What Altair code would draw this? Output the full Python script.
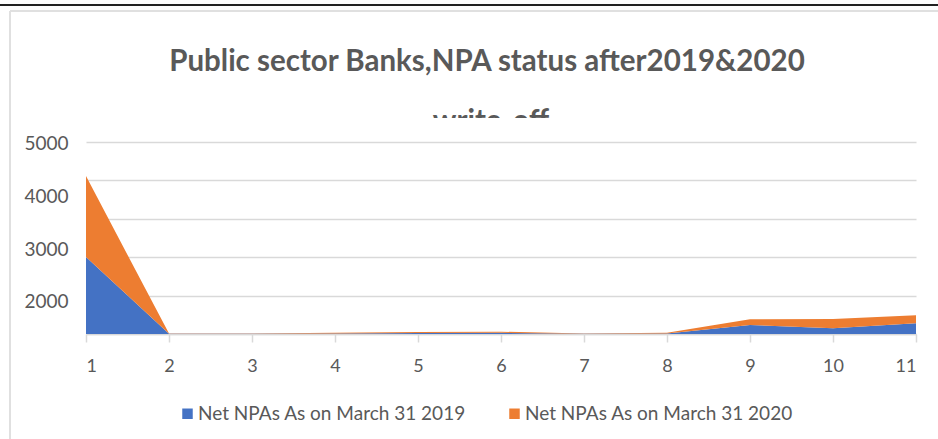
import altair as alt
import pandas as pd

# ---- data ----
banks = [1, 2, 3, 4, 5, 6, 7, 8, 9, 10, 11]
npa_2019 = [2008, 5, 5, 15, 25, 30, 5, 15, 234, 148, 278]
npa_2020 = [2104, 5, 5, 15, 30, 30, 5, 20, 148, 242, 208]
series_names = ["Net NPAs As on March 31 2019", "Net NPAs As on March 31 2020"]
series_colors = ["#4472C4", "#ED7D31"]
grid_values = [0, 1000, 2000, 3000, 4000, 5000]
y_label_values = [2000, 3000, 4000, 5000]
title_line1 = "Public sector Banks,NPA status after2019&2020"
title_line2 = "write-off"

FONT = "Lato, Carlito, sans-serif"
TXT = "#595959"
GRID = "#d9d9d9"

rows = []
for b, v in zip(banks, npa_2019):
    rows.append({"bank": b, "value": v, "series": series_names[0]})
for b, v in zip(banks, npa_2020):
    rows.append({"bank": b, "value": v, "series": series_names[1]})
df = pd.DataFrame(rows)

W, H = 830, 192

area = alt.Chart(df).mark_area(opacity=1).encode(
    x=alt.X("bank:Q", scale=alt.Scale(domain=[1, 11], nice=False, zero=False),
            axis=alt.Axis(values=banks, format="d", title=None, grid=False,
                          domainColor=GRID, domainWidth=1.5, tickColor=GRID,
                          tickSize=8, tickWidth=1.5, labelColor=TXT,
                          labelFontSize=18, labelPadding=15, labelFont=FONT)),
    y=alt.Y("value:Q", stack="zero", scale=alt.Scale(domain=[0, 5000], nice=False),
            axis=alt.Axis(orient="left", values=grid_values, labels=False, ticks=False,
                          domain=False, grid=True, gridColor=GRID, gridWidth=1.5,
                          title=None)),
    color=alt.Color("series:N",
                    scale=alt.Scale(domain=series_names, range=series_colors),
                    legend=alt.Legend(title=None, orient="none", direction="horizontal",
                                      legendX=92, legendY=262, symbolType="square",
                                      symbolSize=110, symbolStrokeWidth=0,
                                      labelFontSize=19, labelColor=TXT, labelFont=FONT,
                                      labelOffset=1, columnPadding=39, labelLimit=400)),
    order=alt.Order("series:N", sort="ascending"),
)

labels_df = pd.DataFrame({"v": y_label_values})
ylabels = alt.Chart(labels_df).mark_point(opacity=0).encode(
    y=alt.Y("v:Q", scale=alt.Scale(domain=[1388, 5030], nice=False, zero=False),
            axis=alt.Axis(orient="left", values=y_label_values, format="d", grid=False,
                          ticks=False, domain=False, title=None, labelColor=TXT,
                          labelFontSize=19, labelFont=FONT, labelPadding=18))
)

one = pd.DataFrame({"t1": [title_line1], "t2": [title_line2]})
title_text = alt.Chart(one).mark_text(font=FONT, fontSize=29.5, fontWeight="bold",
                                      color=TXT, baseline="middle", align="center").encode(
    text="t1:N", x=alt.value(401), y=alt.value(-80))
sub_text = alt.Chart(one).mark_text(font=FONT, fontSize=29.5, fontWeight="bold",
                                    color=TXT, baseline="alphabetic", align="center").encode(
    text="t2:N", x=alt.value(405), y=alt.value(-11))
cover = alt.Chart(one).mark_rect(color="white").encode(
    x=alt.value(-60), x2=alt.value(W + 10), y=alt.value(-24), y2=alt.value(-10))
top_line = alt.Chart(one).mark_rule(color="#222222", strokeWidth=2).encode(
    x=alt.value(-86), x2=alt.value(W + 22), y=alt.value(-137))
frame_top = alt.Chart(one).mark_rule(color="#e0e0e0", strokeWidth=2).encode(
    x=alt.value(-76), x2=alt.value(W + 22), y=alt.value(-131))
frame_left = alt.Chart(one).mark_rule(color="#e0e0e0", strokeWidth=2).encode(
    x=alt.value(-76), y=alt.value(-131), y2=alt.value(300))

chart = alt.layer(area, ylabels, title_text, sub_text, cover, top_line, frame_top,
                  frame_left).resolve_scale(
    y="independent"
).properties(
    width=W, height=H,
    autosize=alt.AutoSizeParams(type="none"),
    padding={"left": 86, "top": 142, "right": 22, "bottom": 105},
    background="white",
).configure_view(stroke=None)

chart.save("out.html", embed_options={"renderer": "svg", "actions": False})
